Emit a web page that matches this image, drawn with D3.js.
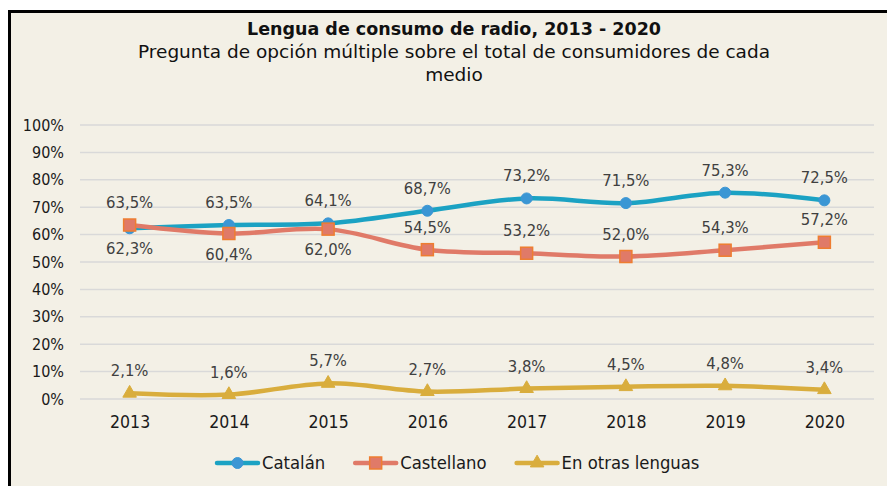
<!DOCTYPE html>
<html>
<head>
<meta charset="utf-8">
<script src="https://cdn.jsdelivr.net/npm/d3@7"></script>
<style>
  body { margin: 0; background: #fff; }
  svg { display: block; }
  text { font-family: "DejaVu Sans Condensed", "DejaVu Sans", sans-serif; }
</style>
</head>
<body>
<svg id="chart" width="887" height="486"></svg>
<script>
var years = ["2013", "2014", "2015", "2016", "2017", "2018", "2019", "2020"];
var catalan = [62.3, 63.5, 64.1, 68.7, 73.2, 71.5, 75.3, 72.5];
var castellano = [63.5, 60.4, 62.0, 54.5, 53.2, 52.0, 54.3, 57.2];
var otras = [2.1, 1.6, 5.7, 2.7, 3.8, 4.5, 4.8, 3.4];
var yTicks = [0, 10, 20, 30, 40, 50, 60, 70, 80, 90, 100];
var seriesNames = ["Catalán", "Castellano", "En otras lenguas"];
var titleLines = ["Lengua de consumo de radio, 2013 - 2020",
  "Pregunta de opción múltiple sobre el total de consumidores de cada",
  "medio"];

var svg = d3.select("#chart");

// frame
svg.append("rect").attr("x", 9.5).attr("y", 11.5).attr("width", 900).attr("height", 500)
  .attr("fill", "#f3f0e6").attr("stroke", "#000").attr("stroke-width", 3);

var x = d3.scalePoint().domain(years).range([80, 874]).padding(0.5);
var y = d3.scaleLinear().domain([0, 100]).range([399, 125]);

// titles
svg.append("text").attr("x", 454).attr("y", 35).attr("text-anchor", "middle")
  .attr("font-size", 17.5).attr("font-weight", "bold").attr("fill", "#111")
  .style("font-family", "'DejaVu Sans', sans-serif").text(titleLines[0]);
svg.append("text").attr("x", 454).attr("y", 58).attr("text-anchor", "middle")
  .attr("font-size", 18.5).attr("fill", "#111")
  .style("font-family", "'DejaVu Sans', sans-serif").text(titleLines[1]);
svg.append("text").attr("x", 454).attr("y", 81).attr("text-anchor", "middle")
  .attr("font-size", 18.5).attr("fill", "#111")
  .style("font-family", "'DejaVu Sans', sans-serif").text(titleLines[2]);

// grid
svg.append("g").selectAll("line").data(yTicks).join("line")
  .attr("x1", 80).attr("x2", 874)
  .attr("y1", function(d) { return y(d); }).attr("y2", function(d) { return y(d); })
  .attr("stroke", "#d9d9d9").attr("stroke-width", 1.5);

// y axis
var yAxis = svg.append("g").attr("transform", "translate(70,0)")
  .call(d3.axisLeft(y).tickValues(yTicks).tickSize(0).tickPadding(6).tickFormat(function(d) { return d + "%"; }));
yAxis.select(".domain").remove();
yAxis.selectAll("text").attr("font-size", 16).attr("fill", "#1a1a1a")
  .style("font-family", "'DejaVu Sans Condensed', sans-serif");

// x axis
var xAxis = svg.append("g").attr("transform", "translate(0,399)")
  .call(d3.axisBottom(x).tickSize(0).tickPadding(17));
xAxis.select(".domain").remove();
xAxis.selectAll("text").attr("font-size", 17.5).attr("fill", "#1a1a1a")
  .style("font-family", "'DejaVu Sans Condensed', sans-serif");

var series = [
  {name: seriesNames[0], values: catalan, line: "#1ba2c3", fill: "#3b96d4", stroke: "#3b96d4", shape: "circle"},
  {name: seriesNames[1], values: castellano, line: "#e07a68", fill: "#e07a68", stroke: "#ee7d31", shape: "square"},
  {name: seriesNames[2], values: otras, line: "#d9ad3d", fill: "#d9ad3d", stroke: "#d9ad3d", shape: "triangle"}
];

var line = d3.line()
  .x(function(d, i) { return x(years[i]); })
  .y(function(d) { return y(d); })
  .curve(d3.curveCatmullRom.alpha(0));

function drawMarker(g, s, cx, cy, scale) {
  scale = scale || 1;
  if (s.shape === "circle") {
    g.append("circle").attr("cx", cx).attr("cy", cy).attr("r", 5.5 * scale)
      .attr("fill", s.fill).attr("stroke", s.stroke).attr("stroke-width", 1);
  } else if (s.shape === "square") {
    g.append("rect").attr("x", cx - 6 * scale).attr("y", cy - 6 * scale)
      .attr("width", 12 * scale).attr("height", 12 * scale)
      .attr("fill", s.fill).attr("stroke", s.stroke).attr("stroke-width", 1.5);
  } else {
    g.append("path").attr("transform", "translate(" + cx + "," + cy + ")")
      .attr("d", d3.symbol().type(d3.symbolTriangle).size(80 * scale * scale))
      .attr("fill", s.fill).attr("stroke", s.stroke).attr("stroke-width", 1);
  }
}

series.forEach(function(s) {
  svg.append("path").datum(s.values).attr("fill", "none")
    .attr("stroke", s.line).attr("stroke-width", 4.5)
    .attr("stroke-linejoin", "round").attr("stroke-linecap", "round")
    .attr("d", line);
});

series.forEach(function(s) {
  var g = svg.append("g");
  s.values.forEach(function(v, i) { drawMarker(g, s, x(years[i]), y(v)); });
});

// data labels
function fmt(v) { return v.toFixed(1).replace(".", ",") + "%"; }
series.forEach(function(s, si) {
  s.values.forEach(function(v, i) {
    var below = false;
    if (si < 2) {
      var other = series[1 - si].values[i];
      below = Math.abs(v - other) < 5 && v < other;
    }
    svg.append("text").attr("x", x(years[i]))
      .attr("y", y(v) + (below ? 26 : -17))
      .attr("text-anchor", "middle").attr("font-size", 16.5).attr("fill", "#404040")
      .text(fmt(v));
  });
});

// legend
var leg = svg.append("g");
var lx = 217, ly = 463;
series.forEach(function(s) {
  leg.append("line").attr("x1", lx).attr("x2", lx + 41).attr("y1", ly).attr("y2", ly)
    .attr("stroke", s.line).attr("stroke-width", 4.5).attr("stroke-linecap", "round");
  drawMarker(leg, s, lx + 20.5, ly, 1);
  var t = leg.append("text").attr("x", lx + 45).attr("y", ly + 6)
    .attr("font-size", 18.3).attr("fill", "#1a1a1a").text(s.name);
  lx += 45 + t.node().getComputedTextLength() + 30;
});
</script>
</body>
</html>
